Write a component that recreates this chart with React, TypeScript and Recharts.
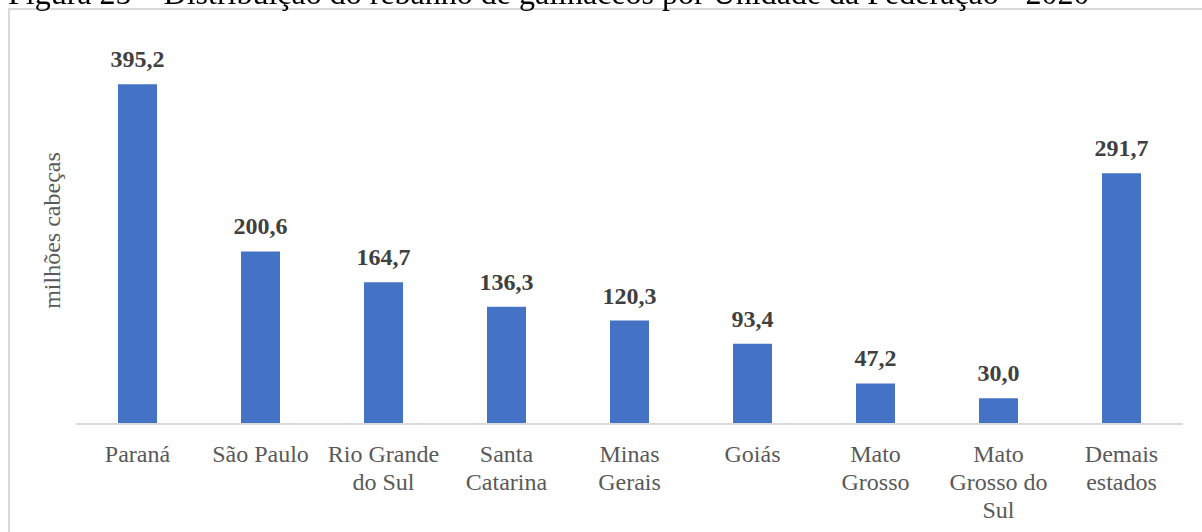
import React from 'react';
import { BarChart, Bar, XAxis, YAxis, LabelList } from 'recharts';

const categories = [
  'Paraná',
  'São Paulo',
  'Rio Grande do Sul',
  'Santa Catarina',
  'Minas Gerais',
  'Goiás',
  'Mato Grosso',
  'Mato Grosso do Sul',
  'Demais estados',
];
const rebanho = [395.2, 200.6, 164.7, 136.3, 120.3, 93.4, 47.2, 30.0, 291.7];

const title = 'Figura 25 – Distribuição do rebanho de galináceos por Unidade da Federação - 2020';
const yLabel = 'milhões cabeças';

const data = categories.map((estado, i) => ({ estado, valor: rebanho[i] }));

const FONT = '"Liberation Serif", "Times New Roman", serif';
const TICK_SIZE = 24;
const WRAP_WIDTH = 118;

const fmt = (v: any) => Number(v).toFixed(1).replace('.', ',');

let ctx: CanvasRenderingContext2D | null = null;
const measure = (s: string) => {
  if (!ctx) {
    ctx = document.createElement('canvas').getContext('2d');
  }
  if (!ctx) return s.length * TICK_SIZE * 0.45;
  ctx.font = `${TICK_SIZE}px ${FONT}`;
  return ctx.measureText(s).width;
};

// simple word wrap, like excel does under the bars
const wrap = (label: string) => {
  const words = label.split(' ');
  const lines: string[] = [];
  let cur = '';
  words.forEach((w) => {
    const test = cur ? cur + ' ' + w : w;
    if (cur && measure(test) > WRAP_WIDTH) {
      lines.push(cur);
      cur = w;
    } else {
      cur = test;
    }
  });
  if (cur) lines.push(cur);
  return lines;
};

const CategoryTick = (props: any) => {
  const { x, y, payload } = props;
  const lines = wrap(String(payload.value));
  return (
    <text
      x={x}
      y={y + 30}
      textAnchor="middle"
      fill="#595959"
      style={{ fontFamily: FONT, fontSize: TICK_SIZE }}
    >
      {lines.map((l, i) => (
        <tspan key={i} x={x} dy={i === 0 ? 0 : 28}>
          {l}
        </tspan>
      ))}
    </text>
  );
};

const AxisTitle = (props: any) => {
  const vb = props.viewBox || { y: 27, height: 387 };
  const cy = vb.y + vb.height / 2;
  return (
    <text
      x={50}
      y={cy}
      transform={`rotate(-90, 50, ${cy})`}
      textAnchor="middle"
      fill="#595959"
      style={{ fontFamily: FONT, fontSize: 24 }}
    >
      {yLabel}
    </text>
  );
};

export default function App() {
  return (
    <div>
      <div
        style={{
          position: 'fixed',
          left: 8,
          top: -25,
          whiteSpace: 'nowrap',
          fontFamily: FONT,
          fontSize: 32,
          lineHeight: 'normal',
          color: '#000',
          zIndex: 2,
        }}
      >
        {title}
      </div>
      <div
        style={{
          position: 'fixed',
          left: 8,
          top: 8,
          width: 1194,
          height: 524,
          overflow: 'hidden',
        }}
      >
        <div
          style={{
            width: 1300,
            height: 700,
            border: '2px solid #d9d9d9',
            boxSizing: 'border-box',
            background: '#fff',
          }}
        >
          <BarChart
            width={1192}
            height={514}
            data={data}
            margin={{ top: 27, right: 19, left: 0, bottom: 0 }}
            style={{ fontFamily: FONT }}
          >
            <XAxis
              dataKey="estado"
              height={100}
              interval={0}
              axisLine={{ stroke: '#d9d9d9', strokeWidth: 2 }}
              tickLine={false}
              tick={<CategoryTick />}
            />
            <YAxis
              width={66}
              domain={[0, 450]}
              tick={false}
              axisLine={false}
              tickLine={false}
              label={<AxisTitle />}
            />
            <Bar dataKey="valor" fill="#4472C4" barSize={39} isAnimationActive={false}>
              <LabelList
                dataKey="valor"
                position="top"
                offset={17}
                formatter={fmt}
                fill="#404040"
                style={{ fontFamily: FONT, fontSize: 24, fontWeight: 'bold' }}
              />
            </Bar>
          </BarChart>
        </div>
      </div>
    </div>
  );
}
